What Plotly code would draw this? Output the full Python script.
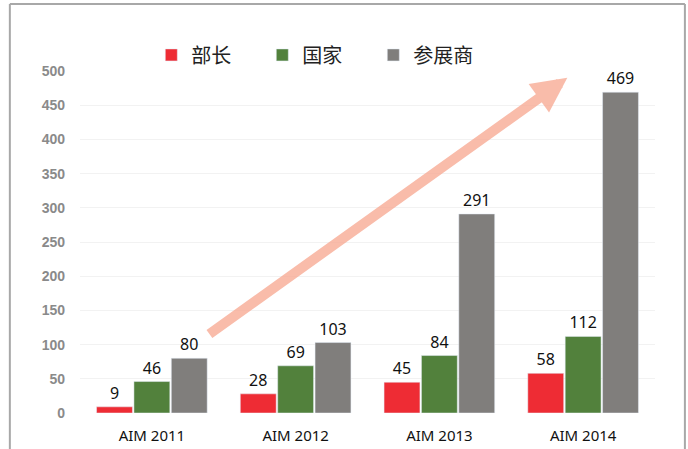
import plotly.graph_objects as go

categories = ['AIM 2011', 'AIM 2012', 'AIM 2013', 'AIM 2014']
buzhang = [9, 28, 45, 58]
guojia = [46, 69, 84, 112]
canzhanshang = [80, 103, 291, 469]

series = [
    ('部长', buzhang, '#EE2C34'),
    ('国家', guojia, '#52813C'),
    ('参展商', canzhanshang, '#807E7C'),
]

fig = go.Figure()
for name, vals, color in series:
    fig.add_trace(go.Bar(
        x=categories,
        y=vals,
        name=name,
        marker_color=color,
        text=vals,
        textposition='outside',
        textfont=dict(family='Noto Sans', size=16, color='#111111'),
        cliponaxis=False,
    ))

# arrow showing the trend
fig.add_annotation(
    x=2.89, y=490, xref='x', yref='y',
    ax=0.39, ay=114, axref='x', ayref='y',
    text='', showarrow=True,
    arrowhead=2, arrowsize=0.7, arrowwidth=10,
    arrowcolor='rgba(248,172,150,0.8)',
)

# outer frame (left, top, right)
frame = dict(color='#A8A8A8', width=2)
fig.add_shape(type='line', xref='paper', yref='paper', x0=-0.122, x1=-0.122, y0=-0.3, y1=1.196, line=frame)
fig.add_shape(type='line', xref='paper', yref='paper', x0=-0.122, x1=1.052, y0=1.196, y1=1.196, line=frame)
fig.add_shape(type='line', xref='paper', yref='paper', x0=1.052, x1=1.052, y0=-0.3, y1=1.196, line=frame)

fig.update_layout(
    width=688, height=449,
    margin=dict(l=80, r=33, t=71, b=36),
    plot_bgcolor='white', paper_bgcolor='white',
    barmode='group', bargap=0.22, bargroupgap=0.04,
    legend=dict(
        orientation='h', x=0.124, y=1.047, xanchor='left', yanchor='middle',
        font=dict(family='Noto Sans CJK SC', size=20, color='#222222'),
        entrywidth=66, itemwidth=30,
    ),
    xaxis=dict(
        showgrid=False, showline=False, ticks='', automargin=False,
        tickfont=dict(family='Noto Sans', size=15, color='#111111'),
        ticklabelstandoff=12,
    ),
    yaxis=dict(
        range=[0, 500], dtick=50, showgrid=True, gridcolor='#F2F2F2', gridwidth=1,
        zeroline=False, showline=False, automargin=False,
        tickfont=dict(family='Liberation Sans', size=14, color='#8A8A8A', weight='bold'),
        ticklabelstandoff=14,
    ),
)

fig.write_html('out.html', config={'displayModeBar': False},
               post_script="document.body.style.margin='0';")
